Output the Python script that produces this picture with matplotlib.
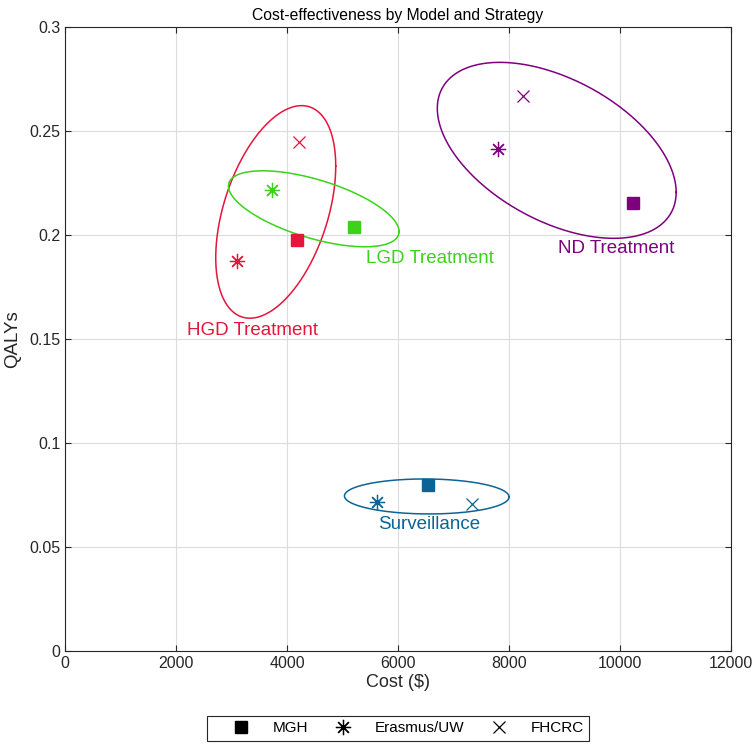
import numpy as np
import matplotlib
matplotlib.use("Agg")
import matplotlib.pyplot as plt
from matplotlib.lines import Line2D

plt.rcParams['font.family'] = ['Liberation Sans', 'DejaVu Sans']

# ---- data ----
strategies = ["HGD Treatment", "LGD Treatment", "ND Treatment", "Surveillance"]
colors = ["#E6153C", "#3CD21A", "#7F007F", "#0B6495"]

# per model: (cost, qaly) per strategy (None = not shown)
mgh_cost = [4175, 5213, 10230, 6547]
mgh_qaly = [0.1976, 0.2038, 0.2155, 0.0798]
erasmus_cost = [3105, 3736, 7808, 5628]
erasmus_qaly = [0.1876, 0.2216, 0.2413, 0.0718]
fhcrc_cost = [4217, None, 8259, 7340]
fhcrc_qaly = [0.2449, None, 0.2670, 0.0707]

# ellipse summaries per strategy: centre, half-extent, correlation
ell_cx = [3797, 4482, 8860, 6518]
ell_cy = [0.2111, 0.2126, 0.2407, 0.0743]
ell_hx = [1081, 1537, 2152, 1483]
ell_hy = [0.0511, 0.01827, 0.0423, 0.00841]
ell_rho = [0.431, -0.598, -0.477, -0.03]

# label positions
lab_x = [3370, 6577, 9929, 6559]
lab_y = [0.1543, 0.1885, 0.1933, 0.0606]

model_names = ["MGH", "Erasmus/UW", "FHCRC"]
xticks = [0, 2000, 4000, 6000, 8000, 10000, 12000]
yticks = [0, 0.05, 0.1, 0.15, 0.2, 0.25, 0.3]
ytick_labels = ["0", "0.05", "0.1", "0.15", "0.2", "0.25", "0.3"]

# ---- figure ----
fig = plt.figure(figsize=(7.55, 7.47), dpi=100)
ax = fig.add_axes([65/755, 96/747, 666/755, 624/747])

star = (8, 2, 0)
for i, s in enumerate(strategies):
    c = colors[i]
    t = np.linspace(0, 2*np.pi, 400)
    ex = ell_cx[i] + ell_hx[i]*np.cos(t)
    ey = ell_cy[i] + ell_hy[i]*(ell_rho[i]*np.cos(t) + np.sqrt(1-ell_rho[i]**2)*np.sin(t))
    ax.plot(ex, ey, color=c, lw=1.1, zorder=2)
    ax.plot(mgh_cost[i], mgh_qaly[i], marker='s', ms=8, color=c, mec=c, ls='none', zorder=3)
    ax.plot(erasmus_cost[i], erasmus_qaly[i], marker=star, ms=11, mec=c, mew=0.9, ls='none', zorder=3)
    if fhcrc_cost[i] is not None:
        ax.plot(fhcrc_cost[i], fhcrc_qaly[i], marker='x', ms=9, mec=c, mew=0.9, ls='none', zorder=3)
    ax.text(lab_x[i], lab_y[i], s, color=c, fontsize=13.5, ha='center', va='center')

ax.set_xlim(0, 12000)
ax.set_ylim(0, 0.3)
ax.set_xticks(xticks)
ax.set_xticklabels([str(v) for v in xticks])
ax.set_yticks(yticks)
ax.set_yticklabels(ytick_labels)
ax.grid(True, color="#DCDCDC", lw=0.8)
ax.set_axisbelow(True)
ax.tick_params(direction='in', top=True, right=True, length=4, width=0.8,
               colors="#262626", labelsize=11.5, labelcolor="#262626")
for sp in ax.spines.values():
    sp.set_color("#262626")
    sp.set_linewidth(0.8)
ax.set_xlabel("Cost ($)", fontsize=13, color="#262626", labelpad=2)
ax.set_ylabel("QALYs", fontsize=13.5, color="#262626", labelpad=6)
ax.set_title("Cost-effectiveness by Model and Strategy", fontsize=11.3, color="black", pad=5)

handles = [
    Line2D([], [], marker='s', ms=8, color='black', ls='none'),
    Line2D([], [], marker=star, ms=11, mec='black', mew=0.9, ls='none'),
    Line2D([], [], marker='x', ms=9, mec='black', mew=0.9, ls='none'),
]
leg = ax.legend(handles, model_names, loc='center', bbox_to_anchor=(0.5, -0.124),
                ncol=3, fancybox=False, edgecolor="#262626", fontsize=11,
                handlelength=3.8, columnspacing=0.4, handletextpad=0.15,
                borderpad=0.36, framealpha=1)
leg.get_frame().set_linewidth(0.8)

fig.savefig("out.png", dpi=100)
